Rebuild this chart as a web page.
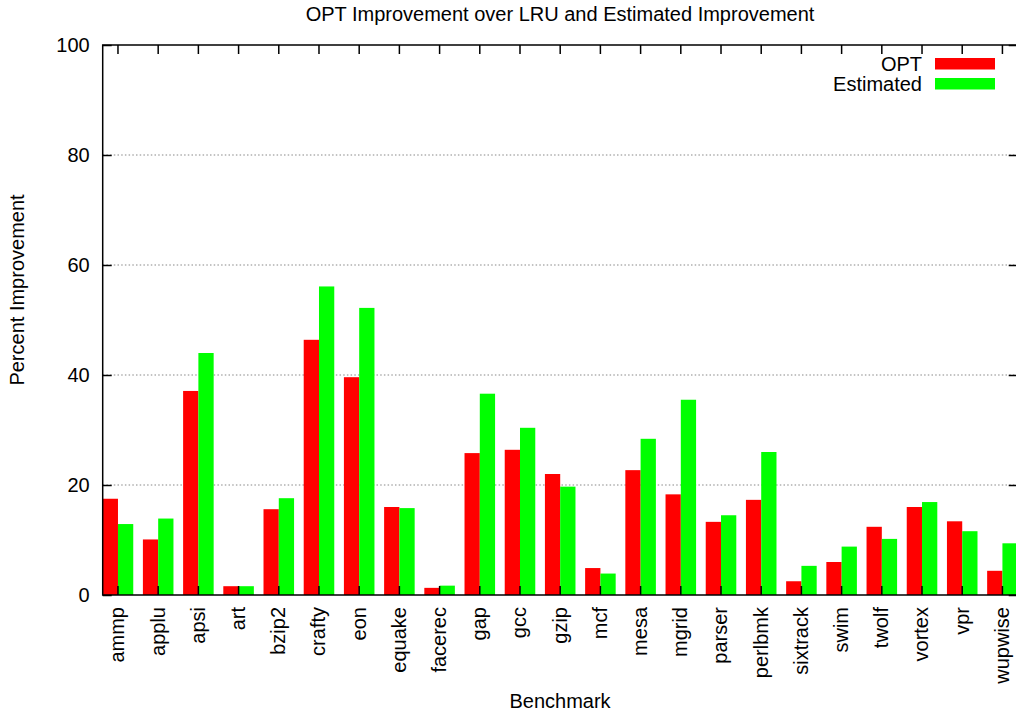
<!DOCTYPE html>
<html>
<head>
<meta charset="utf-8">
<script src="https://cdn.jsdelivr.net/npm/d3@7"></script>
<style>
  body { margin: 0; background: #fff; }
  text { font-family: 'Liberation Sans', Arial, sans-serif; fill: #000; }
</style>
</head>
<body>
<div id="chart"></div>
<script>
// Data
var benchmarks = ['ammp', 'applu', 'apsi', 'art', 'bzip2', 'crafty', 'eon', 'equake',
  'facerec', 'gap', 'gcc', 'gzip', 'mcf', 'mesa', 'mgrid', 'parser', 'perlbmk',
  'sixtrack', 'swim', 'twolf', 'vortex', 'vpr', 'wupwise']
var optValues = [17.5, 10.1, 37.1, 1.6, 15.6, 46.4, 39.6, 16.0, 1.3, 25.8, 26.4, 22.0,
  4.9, 22.7, 18.3, 13.3, 17.3, 2.5, 6.0, 12.4, 16.0, 13.4, 4.4]
var estimatedValues = [12.9, 13.9, 44.0, 1.6, 17.6, 56.1, 52.2, 15.8, 1.7, 36.6, 30.4, 19.7,
  3.9, 28.4, 35.5, 14.5, 26.0, 5.3, 8.8, 10.2, 16.9, 11.6, 9.4]
var yTicks = [0, 20, 40, 60, 80, 100]
var seriesNames = ['OPT', 'Estimated']
var seriesColors = ['#ff0000', '#00ff00']

// Set up margin/height/width
var margin = { top: 45, left: 102.7, right: -1.7, bottom: 118 }
var totalWidth = 1016
var totalHeight = 713
var width = totalWidth - margin.left - margin.right
var height = totalHeight - margin.top - margin.bottom

var svg = d3
  .select('#chart')
  .append('svg')
  .attr('width', totalWidth)
  .attr('height', totalHeight)

var g = svg
  .append('g')
  .attr('transform', `translate(${margin.left}, ${margin.top})`)

// Scales
var xPositionScale = d3
  .scaleBand()
  .domain(benchmarks)
  .range([0, width])
  .paddingInner(0.24)
  .paddingOuter(0)
var yPositionScale = d3
  .scaleLinear()
  .domain([0, 100])
  .range([height, 0])

// Dotted grid lines
g.selectAll('.grid')
  .data(yTicks.filter(d => d > 0 && d < 100))
  .enter()
  .append('line')
  .attr('class', 'grid')
  .attr('x1', 0)
  .attr('x2', width)
  .attr('y1', d => yPositionScale(d))
  .attr('y2', d => yPositionScale(d))
  .attr('stroke', '#888')
  .attr('stroke-width', 1.2)
  .attr('stroke-dasharray', '1.5,2.2')

var rows = benchmarks.map((name, i) => ({
  name: name,
  opt: optValues[i],
  est: estimatedValues[i]
}))

var barWidth = xPositionScale.bandwidth() / 2

// OPT bars
g.selectAll('.bar-opt')
  .data(rows)
  .enter()
  .append('rect')
  .attr('class', 'bar-opt')
  .attr('x', d => xPositionScale(d.name))
  .attr('y', d => yPositionScale(d.opt))
  .attr('width', barWidth)
  .attr('height', d => height - yPositionScale(d.opt))
  .attr('fill', seriesColors[0])

// Estimated bars
g.selectAll('.bar-est')
  .data(rows)
  .enter()
  .append('rect')
  .attr('class', 'bar-est')
  .attr('x', d => xPositionScale(d.name) + barWidth)
  .attr('y', d => yPositionScale(d.est))
  .attr('width', barWidth)
  .attr('height', d => height - yPositionScale(d.est))
  .attr('fill', seriesColors[1])

// Axes, ticks pointing inward
var yAxis = d3
  .axisLeft(yPositionScale)
  .tickValues(yTicks)
  .tickSizeInner(-9)
  .tickSizeOuter(0)
  .tickPadding(13)
g.append('g')
  .attr('class', 'axis y-axis')
  .call(yAxis)

var yAxisRight = d3
  .axisRight(yPositionScale)
  .tickValues(yTicks)
  .tickSizeInner(-9)
  .tickSizeOuter(0)
  .tickFormat('')
g.append('g')
  .attr('class', 'axis y-axis-right')
  .attr('transform', `translate(${width}, 0)`)
  .call(yAxisRight)

var xAxis = d3
  .axisBottom(xPositionScale)
  .tickSizeInner(-9)
  .tickSizeOuter(0)
g.append('g')
  .attr('class', 'axis x-axis')
  .attr('transform', `translate(0, ${height})`)
  .call(xAxis)

var xAxisTop = d3
  .axisTop(xPositionScale)
  .tickSizeInner(-9)
  .tickSizeOuter(0)
  .tickFormat('')
g.append('g')
  .attr('class', 'axis x-axis-top')
  .call(xAxisTop)

g.selectAll('.axis path').remove()
g.selectAll('.axis line')
  .attr('stroke', '#000')
  .attr('stroke-width', 1.5)
g.selectAll('.axis text')
  .attr('font-size', 20)
  .attr('font-family', "'Liberation Sans', Arial, sans-serif")

// rotate the benchmark names
g.selectAll('.x-axis .tick text')
  .attr('transform', 'rotate(-90)')
  .attr('text-anchor', 'end')
  .attr('x', -12)
  .attr('y', 0)
  .attr('dy', '0.32em')

// Border
g.append('rect')
  .attr('x', 0)
  .attr('y', 0)
  .attr('width', width)
  .attr('height', height)
  .attr('fill', 'none')
  .attr('stroke', '#000')
  .attr('stroke-width', 1.5)

// Title and labels
svg.append('text')
  .text('OPT Improvement over LRU and Estimated Improvement')
  .attr('x', 560)
  .attr('y', 21)
  .attr('font-size', 20)
  .attr('text-anchor', 'middle')

svg.append('text')
  .text('Benchmark')
  .attr('x', 560)
  .attr('y', 708)
  .attr('font-size', 20)
  .attr('text-anchor', 'middle')

svg.append('text')
  .text('Percent Improvement')
  .attr('transform', 'translate(24, 290) rotate(-90)')
  .attr('font-size', 20)
  .attr('text-anchor', 'middle')

// Legend
var legend = svg
  .append('g')
  .attr('transform', 'translate(935, 63.5)')

seriesNames.forEach((name, i) => {
  legend.append('text')
    .text(name)
    .attr('x', -13)
    .attr('y', i * 20)
    .attr('dy', '0.35em')
    .attr('font-size', 20)
    .attr('text-anchor', 'end')
  legend.append('rect')
    .attr('x', 0)
    .attr('y', i * 20 - 5.5)
    .attr('width', 60)
    .attr('height', 11.5)
    .attr('fill', seriesColors[i])
})
</script>
</body>
</html>
